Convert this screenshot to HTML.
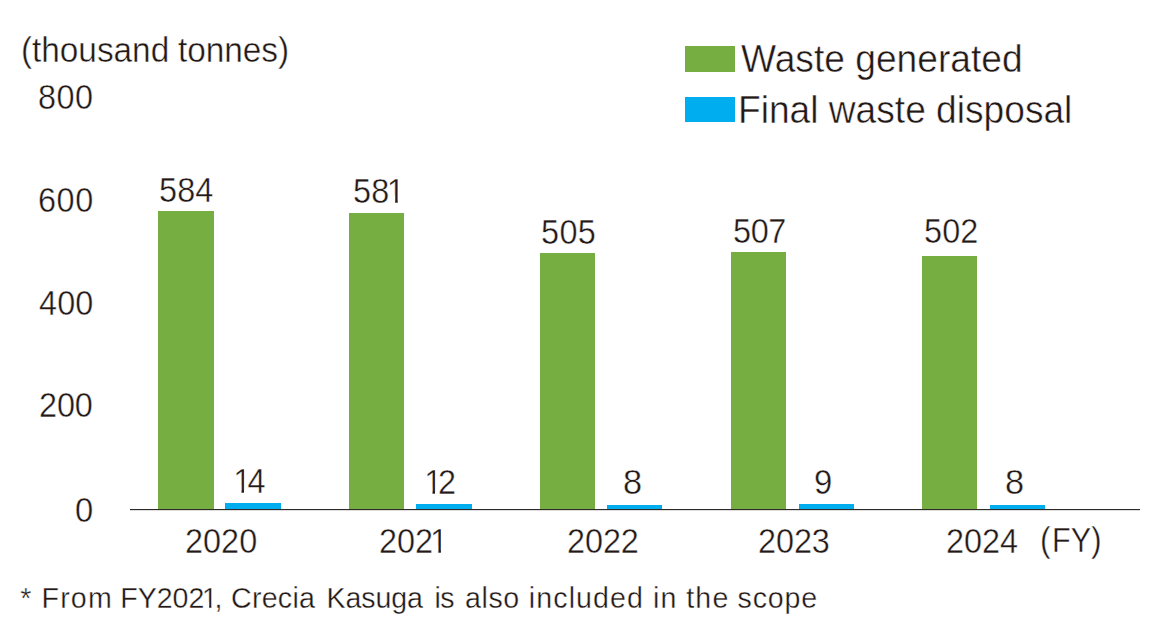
<!DOCTYPE html>
<html><head><meta charset="utf-8"><title>Waste generated / Final waste disposal</title>
<style>
html,body{margin:0;padding:0;background:#fff;}
body{width:1168px;height:636px;position:relative;overflow:hidden;font-family:"Liberation Sans",sans-serif;color:#231815;}
.c{position:absolute;left:0;width:1168px;}
.t{position:absolute;white-space:pre;transform-origin:0 0;line-height:1;-webkit-text-stroke:0.0120em #fff;}
.t i{font-style:normal;display:inline-block;clip-path:polygon(0.088em -0.2em,0.345em -0.2em,0.345em 0.762em,0.3338em 0.762em,0.3338em 1.2em,0.2575em 1.2em,0.2575em 0.762em,0.249em 0.762em,0.249em 0.62em,0.088em 0.62em);margin:0 -0.11em 0 -0.087em;}
.g{position:absolute;background:#76ae42;}
.b{position:absolute;background:#00aeef;}
.ax{position:absolute;background:#2e2a29;}
</style></head><body>
<div class="g" style="left:158.10px;top:210.50px;width:55.65px;height:299.00px"></div>
<div class="g" style="left:349.05px;top:212.50px;width:55.10px;height:297.00px"></div>
<div class="g" style="left:540.00px;top:253.00px;width:55.40px;height:256.50px"></div>
<div class="g" style="left:731.00px;top:252.00px;width:55.30px;height:257.50px"></div>
<div class="g" style="left:922.00px;top:255.75px;width:55.30px;height:253.75px"></div>
<div class="b" style="left:224.90px;top:502.50px;width:56.35px;height:7.00px"></div>
<div class="b" style="left:416.35px;top:504.35px;width:55.45px;height:5.15px"></div>
<div class="b" style="left:607.00px;top:505.05px;width:55.45px;height:4.45px"></div>
<div class="b" style="left:799.00px;top:504.45px;width:54.90px;height:5.05px"></div>
<div class="b" style="left:990.00px;top:505.05px;width:54.75px;height:4.45px"></div>
<div class="ax" style="left:130px;top:509.00px;width:1010px;height:1px"></div>
<div class="ax" style="left:130px;top:510.00px;width:1010px;height:1px;opacity:0.16"></div>
<div class="g" style="left:685.3px;top:46.4px;width:50px;height:25.4px"></div>
<div class="b" style="left:685px;top:97.1px;width:49.6px;height:25.4px"></div>
<div class="c" style="top:33px;height:36px;font-size:35.50px"><span class="t" style="left:20.85px;top:0px;transform:scaleX(0.9400)">(</span><span class="t" style="left:31.65px;top:0px;letter-spacing:-0.015px;transform:scaleX(0.9400)">thousand</span> <span class="t" style="left:178.30px;top:0px;letter-spacing:-0.043px;transform:scaleX(0.9400)">tonnes</span><span class="t" style="left:278.25px;top:0px;transform:scaleX(0.9400)">)</span></div>
<span class="t" style="left:38.30px;top:80px;font-size:34.30px;letter-spacing:0.529px;transform:scaleX(0.9450)">800</span>
<span class="t" style="left:38.05px;top:183px;font-size:34.30px;letter-spacing:0.582px;transform:scaleX(0.9450)">600</span>
<span class="t" style="left:39.05px;top:286px;font-size:34.30px;letter-spacing:0.132px;transform:scaleX(0.9450)">400</span>
<span class="t" style="left:39.10px;top:388px;font-size:34.30px;letter-spacing:-0.106px;transform:scaleX(0.9450)">200</span>
<span class="t" style="left:75.20px;top:493px;font-size:34.30px;transform:scaleX(0.9564)">0</span>
<span class="t" style="left:159.05px;top:173px;font-size:34.30px;letter-spacing:0.132px;transform:scaleX(0.9450)">584</span>
<span class="t" style="left:353.35px;top:174px;font-size:34.30px;letter-spacing:0.317px;transform:scaleX(0.9450)">58<i>1</i></span>
<span class="t" style="left:541.05px;top:215px;font-size:34.30px;letter-spacing:0.397px;transform:scaleX(0.9450)">505</span>
<span class="t" style="left:732.80px;top:214px;font-size:34.30px;letter-spacing:-0.397px;transform:scaleX(0.9450)">507</span>
<span class="t" style="left:923.55px;top:214px;font-size:34.30px;letter-spacing:0.132px;transform:scaleX(0.9450)">502</span>
<span class="t" style="left:235.90px;top:464px;font-size:34.30px;letter-spacing:-0.265px;transform:scaleX(0.9450)"><i>1</i>4</span>
<span class="t" style="left:427.10px;top:465px;font-size:34.30px;letter-spacing:-0.635px;transform:scaleX(0.9450)"><i>1</i>2</span>
<span class="t" style="left:622.75px;top:465px;font-size:34.30px;transform:scaleX(1.0033)">8</span>
<span class="t" style="left:814.35px;top:465px;font-size:34.30px;transform:scaleX(0.9582)">9</span>
<span class="t" style="left:1004.85px;top:465px;font-size:34.30px;transform:scaleX(1.0033)">8</span>
<span class="t" style="left:184.65px;top:524px;font-size:34.30px;letter-spacing:0.035px;transform:scaleX(0.9450)">2020</span>
<span class="t" style="left:379.35px;top:524px;font-size:34.30px;letter-spacing:-0.071px;transform:scaleX(0.9450)">202<i>1</i></span>
<span class="t" style="left:567.30px;top:524px;font-size:34.30px;letter-spacing:-0.088px;transform:scaleX(0.9450)">2022</span>
<span class="t" style="left:757.80px;top:524px;font-size:34.30px;letter-spacing:-0.088px;transform:scaleX(0.9450)">2023</span>
<span class="t" style="left:946.30px;top:524px;font-size:34.30px;transform:scaleX(0.9450)">2024</span>
<div class="c" style="top:523px;height:34px;font-size:34.30px"><span class="t" style="left:1040.47px;top:0px;transform:scaleX(0.9300)">(</span><span class="t" style="left:1051.92px;top:0px;transform:scaleX(0.8909)">FY</span><span class="t" style="left:1091.15px;top:0px;transform:scaleX(0.9300)">)</span></div>
<div class="c" style="top:40px;height:38px;font-size:38.30px"><span class="t" style="left:740.50px;top:0px;transform:scaleX(0.9704)">Waste generated</span></div>
<div class="c" style="top:91px;height:38px;font-size:38.30px"><span class="t" style="left:738.35px;top:0px;transform:scaleX(0.9696)">Final waste disposal</span></div>
<div class="c" style="top:584px;height:29px;font-size:28.60px"><span class="t" style="left:20.25px;top:0px">*</span> <span class="t" style="left:41.55px;top:0px;letter-spacing:1.150px">From</span> <span class="t" style="left:120.30px;top:0px;letter-spacing:-0.050px">FY202<i>1</i>,</span> <span class="t" style="left:231.05px;top:0px;letter-spacing:0.240px">Crecia</span> <span class="t" style="left:326.55px;top:0px;letter-spacing:-0.110px">Kasuga</span> <span class="t" style="left:434.55px;top:0px;letter-spacing:-0.550px">is</span> <span class="t" style="left:465.05px;top:0px;letter-spacing:0.567px">also</span> <span class="t" style="left:528.80px;top:0px;letter-spacing:1.100px">included</span> <span class="t" style="left:653.00px;top:0px;letter-spacing:1.250px">in</span> <span class="t" style="left:686.15px;top:0px;letter-spacing:1.225px">the</span> <span class="t" style="left:737.55px;top:0px;letter-spacing:0.800px">scope</span></div>
</body></html>
